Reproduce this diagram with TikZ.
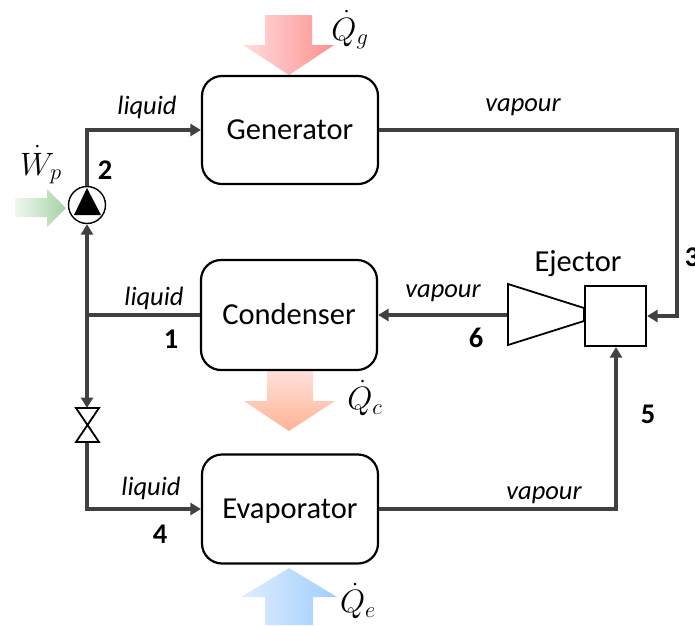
\documentclass[tikz,border=0pt]{standalone}
\usepackage{graphicx}
\usepackage{fontspec}
\setmainfont{Carlito}
\usetikzlibrary{arrows.meta,calc}
\definecolor{pipe}{HTML}{404040}
\tikzset{
  unitbox/.style={draw=black,line width=2.2pt,rounded corners=20pt,minimum width=176pt,minimum height=108pt,font=\fontsize{30.5}{34}\selectfont,inner sep=0pt,text height=22pt,text depth=4pt},
  ejbox/.style={draw=black,line width=2.2pt,minimum width=61pt,minimum height=60pt,inner sep=0pt},
  pumpc/.style={draw=black,line width=1.4pt,circle,minimum size=37pt,inner sep=0pt},
  pipeline/.style={draw=pipe,line width=3.6pt},
  flow/.style={pipeline,-{Triangle[length=10.5pt,width=12pt]}},
  state/.style={font=\fontsize{26.5}{30}\selectfont\itshape,inner sep=0pt},
  num/.style={font=\fontsize{28.5}{32}\selectfont\bfseries,inner sep=0pt},
  qlab/.style={font=\fontsize{25}{28}\selectfont,inner sep=0pt},
  shapeline/.style={draw=black,line width=1.8pt,line join=miter}
}
\newcommand{\bigmath}[1]{\scalebox{1.3}{$#1$}}
\begin{document}
\begin{tikzpicture}[x=1pt,y=-1pt]
\useasboundingbox (0,0) rectangle (695,625);
% heat arrows
\shade[shading angle=135,left color=red!13,right color=red!44]
  (265,15)--(312,15)--(312,45)--(334,45)--(289,75)--(243,45)--(265,45)--cycle;
\shade[top color=orange!22!red!14,bottom color=red!40!orange!42!white]
  (267,371)--(313,371)--(313,401)--(335,401)--(289,431)--(244,401)--(267,401)--cycle;
\shade[left color=blue!60!cyan!12,right color=blue!50!cyan!38]
  (265,625)--(313,625)--(313,597)--(337,597)--(289,568)--(241,597)--(265,597)--cycle;
\shade[left color=green!50!black!6,right color=green!50!black!35]
  (15,198)--(47,198)--(47,189)--(66,208)--(47,227)--(47,217)--(15,217)--cycle;
% units
\node[unitbox] (gen) at (290,130) {Generator};
\node[unitbox,minimum height=110pt] (con) at (289,315) {Condenser};
\node[unitbox,minimum height=109pt] (eva) at (290,509) {Evaporator};
\node[ejbox] (ejc) at (615.5,316) {};
\node[pumpc] (pump) at (87,205) {};
\coordinate (junc) at (87,315);
\coordinate (valve) at (87,425);
\coordinate (valvetop) at (87,408);
\coordinate (valvebot) at (87,442);
\coordinate (noz) at (508,315);
\coordinate (corA) at (87,130);
\coordinate (corB) at (677,130);
\coordinate (corC) at (677,316);
\coordinate (corD) at (87,509);
\coordinate (corE) at (616,509);
% pipes
\draw[flow] (pump.north) -- (corA) -- (gen.west |- corA);
\draw[flow] (gen.east |- corB) -- (corB) -- (corC) -- (ejc.east);
\draw[pipeline] (con.west |- junc) -- (junc);
\draw[flow] (junc) -- (pump.south);
\draw[flow] (junc) -- (valvetop);
\draw[flow] (valvebot) -- (corD) -- (eva.west |- corD);
\draw[flow] (eva.east |- corE) -- (corE) -- (ejc.south -| corE);
\draw[flow] (noz) -- (con.east |- noz);
% pump triangle
\fill[black] (87,188) -- (101,215) -- (74,215) -- cycle;
% valve
\draw[shapeline,fill=white] (76,408) -- (99,408) -- (76,442) -- (99,442) -- cycle;
% nozzle
\draw[shapeline,fill=white] (508,284) -- (584,308) -- (584,321) -- (508,345) -- cycle;
% labels
\node[state] (l1) at (147,107) {liquid};
\node[state] (l2) at (154,298) {liquid};
\node[state] (l3) at (151,488) {liquid};
\node[state] (v1) at (523,107) {vapour};
\node[state] (v2) at (443,293) {vapour};
\node[state] (v3) at (544,495) {vapour};
\node[num] (n1) at (171,339) {1};
\node[num] (n2) at (105,170) {2};
\node[num] (n3) at (692,257) {3};
\node[num] (n4) at (160,534) {4};
\node[num] (n5) at (648,414) {5};
\node[num] (n6) at (476,338) {6};
\node[font=\fontsize{30.5}{34}\selectfont,inner sep=0pt] (ejl) at (578,264) {Ejector};
\node[qlab] (qg) at (350,30) {\bigmath{\dot{Q}_g}};
\node[qlab] (qc) at (365,398) {\bigmath{\dot{Q}_c}};
\node[qlab] (qe) at (358,601) {\bigmath{\dot{Q}_e}};
\node[qlab] (wp) at (41,165) {\bigmath{\dot{W}_p}};
\end{tikzpicture}
\end{document}
